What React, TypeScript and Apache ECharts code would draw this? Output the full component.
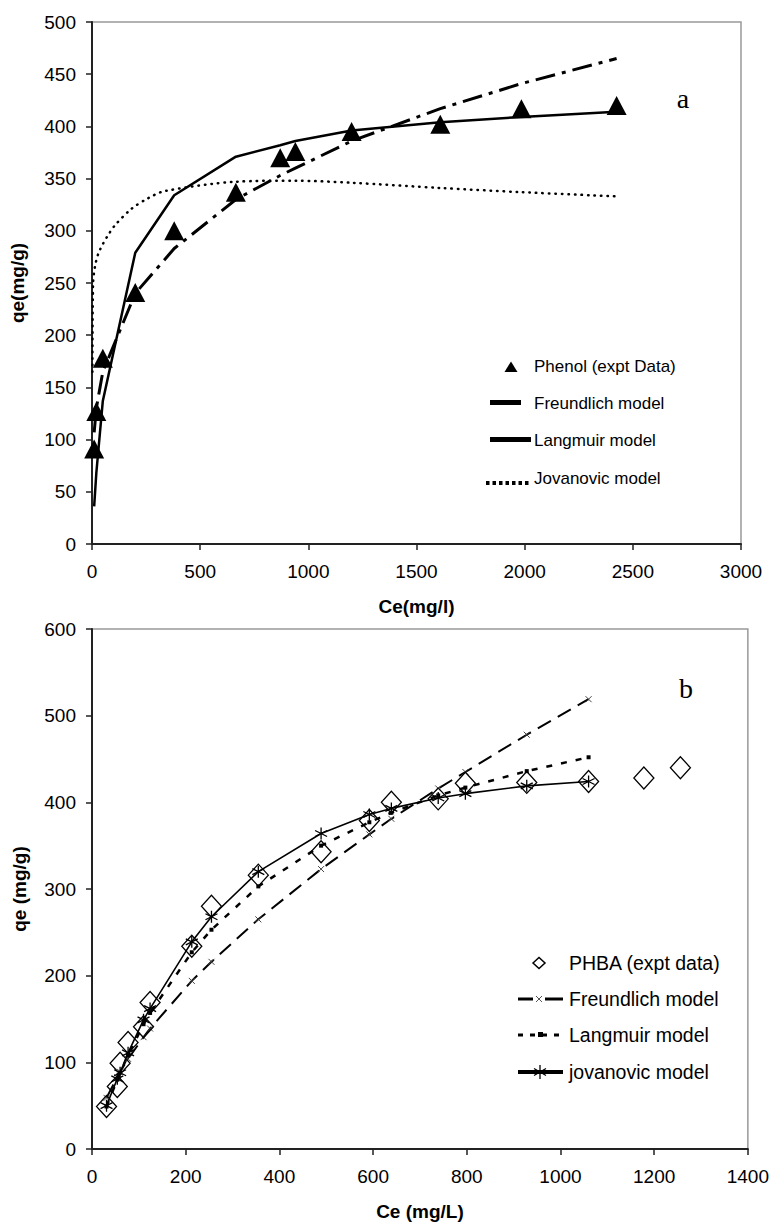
import React, { useEffect, useRef } from "react";
import * as echarts from "echarts";

// ---------- Panel a : Phenol ----------
const phenolCe = [10, 20, 50, 200, 380, 665, 870, 940, 1200, 1610, 1985, 2425];
const phenolQe = [91, 127, 178, 241, 300, 337, 370, 376, 395, 402, 417, 420];
const phenolFreundlich = [107, 130, 165, 240, 283, 330, 353, 360, 386, 417, 441, 465];
const phenolLangmuir = [36, 68, 137, 279, 334, 371, 382, 386, 396, 404, 409, 414];
const phenolJovCe = [2, 5, 14, 29, 52, 75, 105, 182, 258, 335, 665, 940, 1200, 1610, 1985, 2425];
const phenolJovQe = [165, 250, 266, 278, 288, 296, 305, 321, 331, 338, 347, 348, 346, 341, 337, 333];

// ---------- Panel b : PHBA ----------
const phbaCe = [31, 54, 60, 77, 110, 124, 213, 255, 355, 489, 592, 639, 739, 797, 928, 1060, 1178, 1256];
const phbaQe = [49, 72, 99, 123, 141, 169, 234, 280, 316, 343, 379, 400, 404, 422, 423, 424, 428, 440];
const phbaModelCe = [31, 54, 60, 77, 110, 124, 213, 255, 355, 489, 592, 639, 739, 797, 928, 1060];
const phbaFreundlich = [59, 83, 89, 104, 129, 139, 194, 216, 265, 323, 363, 381, 416, 435, 478, 519];
const phbaLangmuir = [49, 80, 88, 108, 144, 157, 227, 253, 303, 350, 377, 388, 408, 417, 436, 452];
const phbaJovanovic = [50, 81, 88, 111, 149, 162, 239, 268, 320, 364, 386, 393, 405, 410, 419, 424];

const zip = (xs: number[], ys: number[]) => ys.map((y, i) => [xs[i], y]);

const SANS = '"Liberation Sans", Arial, sans-serif';
const SERIF = '"Liberation Serif", "Times New Roman", serif';

const X_PATH = "path://M-1,-1L1,1M-1,1L1,-1";
const STAR_PATH = "path://M0,-1L0,1M-0.87,-0.5L0.87,0.5M-0.87,0.5L0.87,-0.5";

function axisCommon(margin: number) {
  return {
    axisLine: { show: true, onZero: false, lineStyle: { color: "#222", width: 2 } },
    axisTick: { show: true, inside: false, length: 6, lineStyle: { color: "#222", width: 1.5 } },
    splitLine: { show: false },
    axisLabel: {
      color: "#000",
      fontSize: 19,
      fontFamily: SANS,
      margin,
      formatter: (v: number) => String(v),
    },
    nameLocation: "middle" as const,
    nameTextStyle: { color: "#000", fontSize: 19, fontWeight: "bold" as const, fontFamily: SANS },
  };
}

export default function App() {
  const ref = useRef<HTMLDivElement>(null);

  useEffect(() => {
    document.body.style.margin = "0";
    if (!ref.current) return;
    const chart = echarts.init(ref.current, undefined, { renderer: "svg" });

    const txt = (text: string, x: number, y: number, size: number, family = SANS) => ({
      type: "text",
      x,
      y,
      style: { text, fill: "#000", fontSize: size, fontFamily: family, align: "left", verticalAlign: "middle" },
    });

    const option: any = {
      animation: false,
      backgroundColor: "#fff",
      grid: [
        { left: 87, top: 22, width: 654, height: 522, show: true, borderColor: "#999", borderWidth: 1.5 },
        { left: 92, top: 629, width: 656, height: 520, show: true, borderColor: "#999", borderWidth: 1.5 },
      ],
      xAxis: [
        {
          ...axisCommon(18),
          type: "value",
          gridIndex: 0,
          min: 0,
          max: 3000,
          interval: 500,
          name: "Ce(mg/l)",
          nameGap: 53,
        },
        {
          ...axisCommon(18),
          type: "value",
          gridIndex: 1,
          min: 0,
          max: 1400,
          interval: 200,
          name: "Ce (mg/L)",
          nameGap: 53,
        },
      ],
      yAxis: [
        {
          ...axisCommon(16),
          type: "value",
          gridIndex: 0,
          min: 0,
          max: 500,
          interval: 50,
          name: "qe(mg/g)",
          nameGap: 65,
        },
        {
          ...axisCommon(16),
          type: "value",
          gridIndex: 1,
          min: 0,
          max: 600,
          interval: 100,
          name: "qe (mg/g)",
          nameGap: 63,
        },
      ],
      series: [
        // ---- panel a ----
        {
          type: "line",
          name: "Freundlich model",
          xAxisIndex: 0,
          yAxisIndex: 0,
          data: zip(phenolCe, phenolFreundlich),
          symbol: "none",
          lineStyle: { color: "#000", width: 3, type: [20, 7, 4, 7] },
          z: 3,
        },
        {
          type: "line",
          name: "Langmuir model",
          xAxisIndex: 0,
          yAxisIndex: 0,
          data: zip(phenolCe, phenolLangmuir),
          symbol: "none",
          lineStyle: { color: "#000", width: 2.5, type: "solid" },
          z: 3,
        },
        {
          type: "line",
          name: "Jovanovic model",
          xAxisIndex: 0,
          yAxisIndex: 0,
          data: zip(phenolJovCe, phenolJovQe),
          symbol: "none",
          smooth: 0.3,
          lineStyle: { color: "#000", width: 2.5, type: [0.5, 6], cap: "round" },
          z: 3,
        },
        {
          type: "scatter",
          name: "Phenol (expt Data)",
          xAxisIndex: 0,
          yAxisIndex: 0,
          data: zip(phenolCe, phenolQe),
          symbol: "triangle",
          symbolSize: [20, 19],
          itemStyle: { color: "#000", opacity: 1 },
          z: 5,
        },
        // ---- panel b ----
        {
          type: "line",
          name: "Freundlich model ",
          xAxisIndex: 1,
          yAxisIndex: 1,
          data: zip(phbaModelCe, phbaFreundlich),
          symbol: X_PATH,
          symbolSize: 6,
          itemStyle: { color: "#444", borderColor: "#444", borderWidth: 1 },
          lineStyle: { color: "#000", width: 2, type: [15, 8] },
          z: 3,
        },
        {
          type: "line",
          name: "Langmuir model ",
          xAxisIndex: 1,
          yAxisIndex: 1,
          data: zip(phbaModelCe, phbaLangmuir),
          symbol: "rect",
          symbolSize: 4,
          itemStyle: { color: "#000", borderWidth: 0 },
          lineStyle: { color: "#000", width: 2.5, type: [6, 9] },
          z: 3,
        },
        {
          type: "line",
          name: "jovanovic model",
          xAxisIndex: 1,
          yAxisIndex: 1,
          data: zip(phbaModelCe, phbaJovanovic),
          symbol: STAR_PATH,
          symbolSize: 12,
          itemStyle: { color: "#000", borderColor: "#000", borderWidth: 1.3 },
          lineStyle: { color: "#000", width: 1.6, type: "solid" },
          z: 4,
        },
        {
          type: "scatter",
          name: "PHBA (expt data)",
          xAxisIndex: 1,
          yAxisIndex: 1,
          data: zip(phbaCe, phbaQe),
          symbol: "diamond",
          symbolSize: [20, 22],
          itemStyle: { color: "rgba(0,0,0,0)", borderColor: "#000", borderWidth: 1.3, opacity: 1 },
          z: 5,
        },
      ],
      graphic: [
        // panel letters
        { type: "text", x: 683, y: 98, style: { text: "a", fill: "#000", fontSize: 28, fontFamily: SERIF, align: "center", verticalAlign: "middle" } },
        { type: "text", x: 686, y: 688, style: { text: "b", fill: "#000", fontSize: 28, fontFamily: SERIF, align: "center", verticalAlign: "middle" } },

        // legend a
        { type: "polygon", shape: { points: [[504.5, 372], [517.5, 372], [511, 361.5]] }, style: { fill: "#000" } },
        txt("Phenol (expt Data)", 534, 366, 17),
        { type: "rect", shape: { x: 490, y: 400, width: 31, height: 5 }, style: { fill: "#000" } },
        txt("Freundlich model", 534, 403, 17),
        { type: "rect", shape: { x: 490, y: 437, width: 41, height: 5 }, style: { fill: "#000" } },
        txt("Langmuir model", 534, 440, 17),
        { type: "line", shape: { x1: 486, y1: 483, x2: 530, y2: 483 }, style: { stroke: "#000", lineWidth: 4, lineDash: [3.5, 3] } },
        txt("Jovanovic model", 534, 478, 17),

        // legend b
        { type: "polygon", shape: { points: [[533, 963], [539, 957.5], [545, 963], [539, 968.5]] }, style: { fill: "none", stroke: "#000", lineWidth: 1.5 } },
        txt("PHBA (expt data)", 569, 963, 19.5),
        { type: "line", shape: { x1: 518, y1: 999, x2: 533, y2: 999 }, style: { stroke: "#000", lineWidth: 3 } },
        { type: "line", shape: { x1: 545, y1: 999, x2: 563, y2: 999 }, style: { stroke: "#000", lineWidth: 3 } },
        { type: "line", shape: { x1: 536, y1: 996, x2: 542, y2: 1002 }, style: { stroke: "#555", lineWidth: 1 } },
        { type: "line", shape: { x1: 536, y1: 1002, x2: 542, y2: 996 }, style: { stroke: "#555", lineWidth: 1 } },
        txt("Freundlich model", 569, 999, 19.5),
        { type: "line", shape: { x1: 518, y1: 1035, x2: 564, y2: 1035 }, style: { stroke: "#000", lineWidth: 3, lineDash: [5, 7] } },
        { type: "rect", shape: { x: 538, y: 1032, width: 5, height: 5 }, style: { fill: "#000" } },
        txt("Langmuir model", 569, 1035, 19.5),
        { type: "line", shape: { x1: 518, y1: 1072, x2: 563, y2: 1072 }, style: { stroke: "#000", lineWidth: 4 } },
        { type: "line", shape: { x1: 540, y1: 1065, x2: 540, y2: 1079 }, style: { stroke: "#000", lineWidth: 1.3 } },
        { type: "line", shape: { x1: 534, y1: 1068.5, x2: 546, y2: 1075.5 }, style: { stroke: "#000", lineWidth: 1.3 } },
        { type: "line", shape: { x1: 534, y1: 1075.5, x2: 546, y2: 1068.5 }, style: { stroke: "#000", lineWidth: 1.3 } },
        txt("jovanovic model", 569, 1072, 19.5),
      ],
    };

    chart.setOption(option);
    return () => chart.dispose();
  }, []);

  return <div ref={ref} style={{ width: 772, height: 1223 }} />;
}
